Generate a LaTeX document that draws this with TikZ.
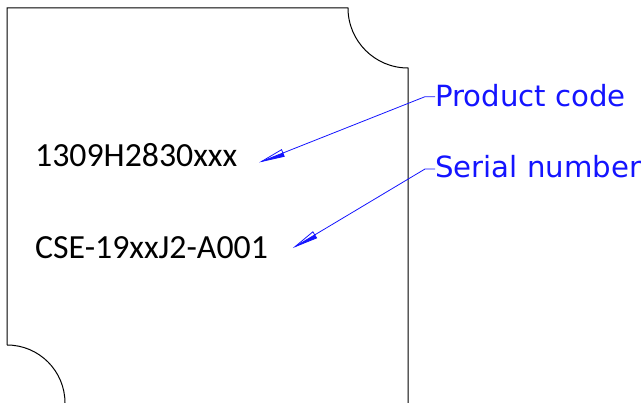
\documentclass[tikz,border=0pt]{standalone}
\usepackage{fontspec}
\setmainfont{Carlito}
\newfontfamily\labelfont{DejaVu Sans}
\usetikzlibrary{calc}
\definecolor{leadblue}{RGB}{20,20,255}
\tikzset{
  plate/.style={draw=black, line width=1pt},
  code/.style={anchor=base west, inner sep=0pt, font=\fontsize{33.8}{36}\selectfont, text=black},
  callout/.style={anchor=base west, inner sep=0pt, font=\labelfont\fontsize{29.2}{32}\selectfont, text=leadblue},
  leader/.style={draw=leadblue, line width=0.8pt},
}
\newcommand{\cadarrow}[2]{% #1 tip, #2 point on shaft
  \coordinate (ab) at ($(#1)!23pt!(#2)$);
  \coordinate (au) at ($(ab)!3.6pt!90:(#1)$);
  \coordinate (ad) at ($(ab)!3.6pt!-90:(#1)$);
  \draw[leader, line join=miter] (#1) -- (au) -- (ad) -- cycle;
  \fill[leadblue] (#1) -- (au) -- (ab) -- cycle;
}
\begin{document}
\begin{tikzpicture}[x=1pt, y=-1pt]
\useasboundingbox (0,0) rectangle (643,403);
% plate outline
\draw[plate] (7,345) -- (7,8) -- (348,8) arc[start angle=180, end angle=90, radius=60] -- (408,403);
\draw[plate] (7,345) arc[start angle=270, end angle=360, radius=58];
% texts
\node[code] (pc) at (35,166.7) {1309H2830xxx};
\node[code] (sn) at (35,259) {CSE-19xxJ2-A001};
\node[callout] (pclab) at (435,106.7) {Product code};
\node[callout] (snlab) at (435,177.7) {Serial number};
% leaders
\coordinate (pcKnee) at (425,96.7);
\coordinate (pcTip) at (261.5,161.5);
\coordinate (snKnee) at (425,169);
\coordinate (snTip) at (295,246.7);
\draw[leader] (pclab.base west |- pcKnee) -- (pcKnee) -- (pcTip);
\draw[leader] (snlab.base west |- snKnee) -- (snKnee) -- (snTip);
\cadarrow{pcTip}{pcKnee}
\cadarrow{snTip}{snKnee}
\end{tikzpicture}
\end{document}
